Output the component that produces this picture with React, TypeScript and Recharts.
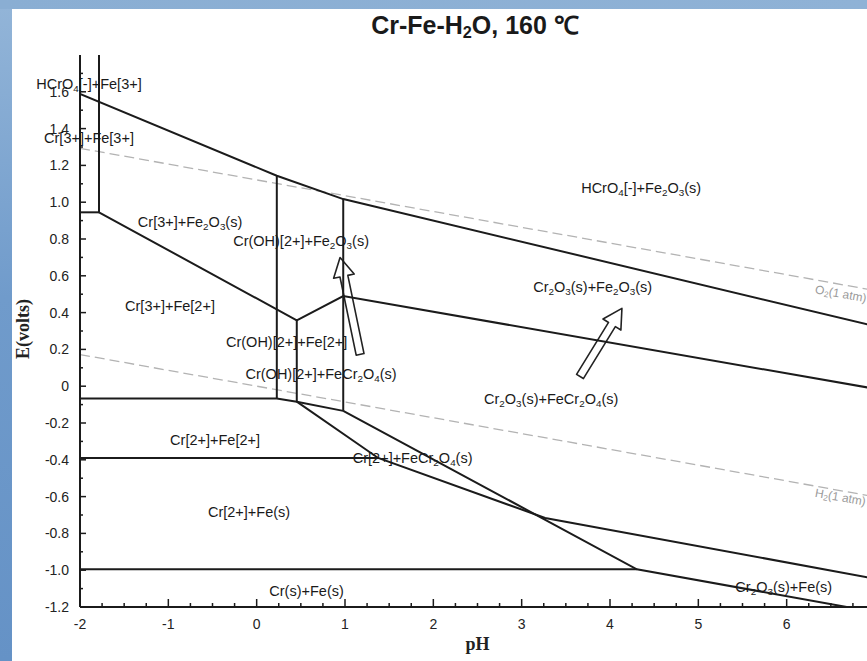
import {
  Line,
  LineChart,
  ReferenceDot,
  ReferenceLine,
  XAxis,
  YAxis,
} from "recharts";

const INK = "#1b1b1b";
const SANS = "Arial, 'Liberation Sans', Helvetica, sans-serif";
const SERIF = "'Times New Roman', 'Liberation Serif', serif";

// axis ticks: pH and potential (V)
const xMajorTicks = [-2, -1, 0, 1, 2, 3, 4, 5, 6];
const yMajorTicks = [-1.2, -1.0, -0.8, -0.6, -0.4, -0.2, 0, 0.2, 0.4, 0.6, 0.8, 1.0, 1.2, 1.4, 1.6];
const xTicks = xMajorTicks.flatMap((v) => [v, v + 0.25, v + 0.5, v + 0.75]);
const yTicks = yMajorTicks.flatMap((v) => [v, +(v + 0.1).toFixed(1)]);

// phase boundaries, E (V) vs pH
const hcro4Boundary = [
  { pH: -2, E: 1.589 },
  { pH: 0.228, E: 1.144 },
  { pH: 0.98, E: 1.017 },
  { pH: 7, E: 0.326 },
];
const fe3Vertical = [
  { pH: -1.785, E: 1.8 },
  { pH: -1.785, E: 0.945 },
];
const fe3Step = [
  { pH: -2, E: 0.945 },
  { pH: -1.785, E: 0.945 },
];
const fe2o3Boundary = [
  { pH: -1.785, E: 0.945 },
  { pH: 0.454, E: 0.358 },
  { pH: 0.98, E: 0.49 },
  { pH: 7, E: -0.014 },
];
const crohLeft = [
  { pH: 0.228, E: 1.144 },
  { pH: 0.228, E: -0.067 },
];
const crohMiddle = [
  { pH: 0.454, E: 0.358 },
  { pH: 0.454, E: -0.084 },
];
const crohRight = [
  { pH: 0.98, E: 1.017 },
  { pH: 0.98, E: -0.134 },
];
const cr2Boundary = [
  { pH: -2, E: -0.067 },
  { pH: 0.228, E: -0.067 },
  { pH: 0.454, E: -0.084 },
  { pH: 0.98, E: -0.134 },
];
const fecr2o4Boundary = [
  { pH: 0.454, E: -0.084 },
  { pH: 1.375, E: -0.39 },
  { pH: 3.266, E: -0.716 },
  { pH: 7, E: -1.046 },
];
const cr2o3Boundary = [
  { pH: 0.98, E: -0.134 },
  { pH: 4.304, E: -0.995 },
  { pH: 6.68, E: -1.2 },
];
const feBoundary = [
  { pH: -2, E: -0.39 },
  { pH: 1.375, E: -0.39 },
];
const crBoundary = [
  { pH: -2, E: -0.995 },
  { pH: 4.304, E: -0.995 },
];
const boundaries = [
  hcro4Boundary,
  fe3Vertical,
  fe3Step,
  fe2o3Boundary,
  crohLeft,
  crohMiddle,
  crohRight,
  cr2Boundary,
  fecr2o4Boundary,
  cr2o3Boundary,
  feBoundary,
  crBoundary,
];

// water stability limits
const o2Line = [
  { pH: -2, E: 1.293 },
  { pH: 7, E: 0.52 },
];
const h2Line = [
  { pH: -2, E: 0.172 },
  { pH: 7, E: -0.601 },
];
const gasLabels = [
  { name: "O_2(1 atm)", pH: 6.324, E: 0.527 },
  { name: "H_2(1 atm)", pH: 6.324, E: -0.579 },
];

// predominant species in each field
const regions = [
  { name: "HCrO_4[-]+Fe[3+]", pH: -1.898, E: 1.643 },
  { name: "Cr[3+]+Fe[3+]", pH: -1.898, E: 1.348 },
  { name: "Cr[3+]+Fe_2O_3(s)", pH: -0.754, E: 0.892 },
  { name: "Cr(OH)[2+]+Fe_2O_3(s)", pH: 0.503, E: 0.791 },
  { name: "Cr[3+]+Fe[2+]", pH: -0.981, E: 0.437 },
  { name: "Cr(OH)[2+]+Fe[2+]", pH: 0.339, E: 0.238 },
  { name: "Cr(OH)[2+]+FeCr_2O_4(s)", pH: 0.729, E: 0.069 },
  { name: "HCrO_4[-]+Fe_2O_3(s)", pH: 4.353, E: 1.077 },
  { name: "Cr_2O_3(s)+Fe_2O_3(s)", pH: 3.804, E: 0.538 },
  { name: "Cr_2O_3(s)+FeCr_2O_4(s)", pH: 3.334, E: -0.067 },
  { name: "Cr[2+]+Fe[2+]", pH: -0.471, E: -0.29 },
  { name: "Cr[2+]+FeCr_2O_4(s)", pH: 1.766, E: -0.388 },
  { name: "Cr[2+]+Fe(s)", pH: -0.086, E: -0.681 },
  { name: "Cr(s)+Fe(s)", pH: 0.565, E: -1.111 },
  { name: "Cr_2O_3(s)+Fe(s)", pH: 5.967, E: -1.089 },
];

// hollow arrows, tail -> head
const arrows = [
  { from: { pH: 1.171, E: 0.173 }, to: { pH: 0.944, E: 0.699 } },
  { from: { pH: 3.66, E: 0.053 }, to: { pH: 4.135, E: 0.423 } },
];

const isMajor = (list: number[], v: number) => list.some((m) => Math.abs(m - v) < 1e-6);

// "Fe_2O_3" -> Fe, subscript 2, O, subscript 3
function Formula({ text, size, shift }: { text: string; size: number; shift: number }) {
  const parts = text.split(/_(\d)/);
  return (
    <>
      {parts.map((p, i) =>
        i % 2 === 1 ? (
          <tspan key={i} dy={shift} fontSize={size * 0.68}>
            {p}
          </tspan>
        ) : (
          <tspan key={i} dy={i === 0 ? 0 : -shift}>
            {p}
          </tspan>
        )
      )}
    </>
  );
}

function BottomTick(props: any) {
  const { x, y, payload } = props;
  const major = isMajor(xMajorTicks, payload.value);
  return (
    <g>
      <line x1={x} x2={x} y1={y} y2={y - (major ? 8 : 4)} stroke={INK} strokeWidth={1.5} />
      {major && (
        <text x={x} y={y + 17} textAnchor="middle" dominantBaseline="central" fontFamily={SANS} fontSize={14} fill="#222">
          {payload.value}
        </text>
      )}
    </g>
  );
}

function TopTick(props: any) {
  const { x, y, payload } = props;
  const major = isMajor(xMajorTicks, payload.value);
  return <line x1={x} x2={x} y1={y} y2={y + (major ? 8 : 4)} stroke={INK} strokeWidth={1.5} />;
}

function LeftTick(props: any) {
  const { x, y, payload } = props;
  const v = payload.value as number;
  const major = isMajor(yMajorTicks, v);
  return (
    <g>
      <line x1={x} x2={x + (major ? 6 : 3)} y1={y} y2={y} stroke={INK} strokeWidth={1.5} />
      {major && (
        <text x={x - 11} y={y} textAnchor="end" dominantBaseline="central" fontFamily={SANS} fontSize={14} fill="#222">
          {Math.abs(v) < 1e-9 ? "0" : v.toFixed(1)}
        </text>
      )}
    </g>
  );
}

function EAxisLabel(props: any) {
  const vb = props.viewBox || { x: 10, y: 55, width: 70, height: 552 };
  const x = vb.x + 12.5;
  const y = vb.y + vb.height / 2 - 2;
  return (
    <text
      x={x}
      y={y}
      transform={`rotate(-90, ${x}, ${y})`}
      textAnchor="middle"
      dominantBaseline="central"
      fontFamily={SERIF}
      fontWeight="bold"
      fontSize={18}
      fill="#222"
    >
      E(volts)
    </text>
  );
}

function HollowArrow(props: any) {
  const { x1, y1, x2, y2 } = props;
  const dx = x2 - x1;
  const dy = y2 - y1;
  const len = Math.hypot(dx, dy) || 1;
  const ux = dx / len;
  const uy = dy / len;
  const nx = -uy;
  const ny = ux;
  const shaft = 4;
  const head = 10.5;
  const headLen = 19;
  const bx = x2 - ux * headLen;
  const by = y2 - uy * headLen;
  const pts = [
    [x1 + nx * shaft, y1 + ny * shaft],
    [bx + nx * shaft, by + ny * shaft],
    [bx + nx * head, by + ny * head],
    [x2, y2],
    [bx - nx * head, by - ny * head],
    [bx - nx * shaft, by - ny * shaft],
    [x1 - nx * shaft, y1 - ny * shaft],
  ];
  return (
    <polygon
      points={pts.map((p) => p.join(",")).join(" ")}
      fill="#fff"
      stroke="#222"
      strokeWidth={1.6}
      strokeLinejoin="round"
    />
  );
}

export default function App() {
  return (
    <div
      style={{
        position: "absolute",
        left: 0,
        top: 0,
        width: 867,
        height: 661,
        overflow: "hidden",
        background: "linear-gradient(to bottom, #93b5d8, #709bcb 45%, #6592c6)",
      }}
    >
      <div
        style={{
          position: "absolute",
          left: 0,
          top: 0,
          width: 867,
          height: 9,
          background: "linear-gradient(to right, #8aaed3, #8fb2d6)",
        }}
      />
      <div style={{ position: "absolute", left: 12, top: 9, right: 0, bottom: 0, background: "#fff" }} />
      <div
        style={{
          position: "absolute",
          left: 0,
          top: 13,
          width: 950,
          textAlign: "center",
          fontFamily: SANS,
          fontWeight: "bold",
          fontSize: 25,
          lineHeight: "25px",
          color: "#1a1a1a",
        }}
      >
        Cr-Fe-H<sub style={{ fontSize: "0.65em", verticalAlign: "-0.25em", lineHeight: 0 }}>2</sub>O, 160 ℃
      </div>
      <div style={{ position: "absolute", left: 0, top: 0 }}>
        <LineChart width={900} height={661} margin={{ top: 55, right: 25, bottom: 14, left: 10 }}>
          <XAxis
            dataKey="pH"
            type="number"
            domain={[-2, 7]}
            ticks={xTicks}
            interval={0}
            allowDataOverflow
            height={40}
            tickSize={0}
            tickMargin={0}
            tickLine={false}
            axisLine={{ stroke: INK, strokeWidth: 2 }}
            tick={(p: any) => <BottomTick {...p} />}
            label={{
              value: "pH",
              position: "bottom",
              offset: -10,
              style: { fontFamily: SERIF, fontWeight: "bold", fontSize: 18, fill: "#222" },
            }}
          />
          <XAxis
            xAxisId="top"
            orientation="top"
            type="number"
            domain={[-2, 7]}
            ticks={xTicks}
            interval={0}
            allowDataOverflow
            height={0}
            tickSize={0}
            tickMargin={0}
            tickLine={false}
            axisLine={{ stroke: INK, strokeWidth: 2 }}
            tick={(p: any) => <TopTick {...p} />}
          />
          <YAxis
            type="number"
            domain={[-1.2, 1.8]}
            ticks={yTicks}
            interval={0}
            allowDataOverflow
            width={70}
            tickSize={0}
            tickMargin={0}
            tickLine={false}
            axisLine={{ stroke: INK, strokeWidth: 2 }}
            tick={(p: any) => <LeftTick {...p} />}
            label={{ content: (p: any) => <EAxisLabel {...p} /> }}
          />

          {arrows.map((a, i) => (
            <ReferenceLine
              key={`arrow-${i}`}
              segment={[
                { x: a.from.pH, y: a.from.E },
                { x: a.to.pH, y: a.to.E },
              ]}
              ifOverflow="visible"
              shape={(p: any) => <HollowArrow {...p} />}
            />
          ))}

          <Line
            data={o2Line}
            dataKey="E"
            type="linear"
            stroke="#b3b3b3"
            strokeWidth={1.3}
            strokeDasharray="10 5"
            dot={false}
            isAnimationActive={false}
          />
          <Line
            data={h2Line}
            dataKey="E"
            type="linear"
            stroke="#b3b3b3"
            strokeWidth={1.3}
            strokeDasharray="10 5"
            dot={false}
            isAnimationActive={false}
          />
          {boundaries.map((b, i) => (
            <Line
              key={`b-${i}`}
              data={b}
              dataKey="E"
              type="linear"
              stroke={INK}
              strokeWidth={2}
              dot={false}
              isAnimationActive={false}
            />
          ))}

          {regions.map((r) => (
            <ReferenceDot
              key={r.name}
              x={r.pH}
              y={r.E}
              r={0}
              ifOverflow="visible"
              shape={(p: any) => (
                <text
                  x={p.cx}
                  y={p.cy}
                  textAnchor="middle"
                  dominantBaseline="central"
                  fontFamily={SANS}
                  fontSize={14.5}
                  fill="#1a1a1a"
                >
                  <Formula text={r.name} size={14.5} shift={4} />
                </text>
              )}
            />
          ))}
          {gasLabels.map((g) => (
            <ReferenceDot
              key={g.name}
              x={g.pH}
              y={g.E}
              r={0}
              ifOverflow="visible"
              shape={(p: any) => (
                <text
                  x={p.cx}
                  y={p.cy}
                  transform={`rotate(10, ${p.cx}, ${p.cy})`}
                  textAnchor="start"
                  dominantBaseline="central"
                  fontFamily={SANS}
                  fontSize={12}
                  fill="#9a9a9a"
                >
                  <Formula text={g.name} size={12} shift={3} />
                </text>
              )}
            />
          ))}
        </LineChart>
      </div>
    </div>
  );
}
